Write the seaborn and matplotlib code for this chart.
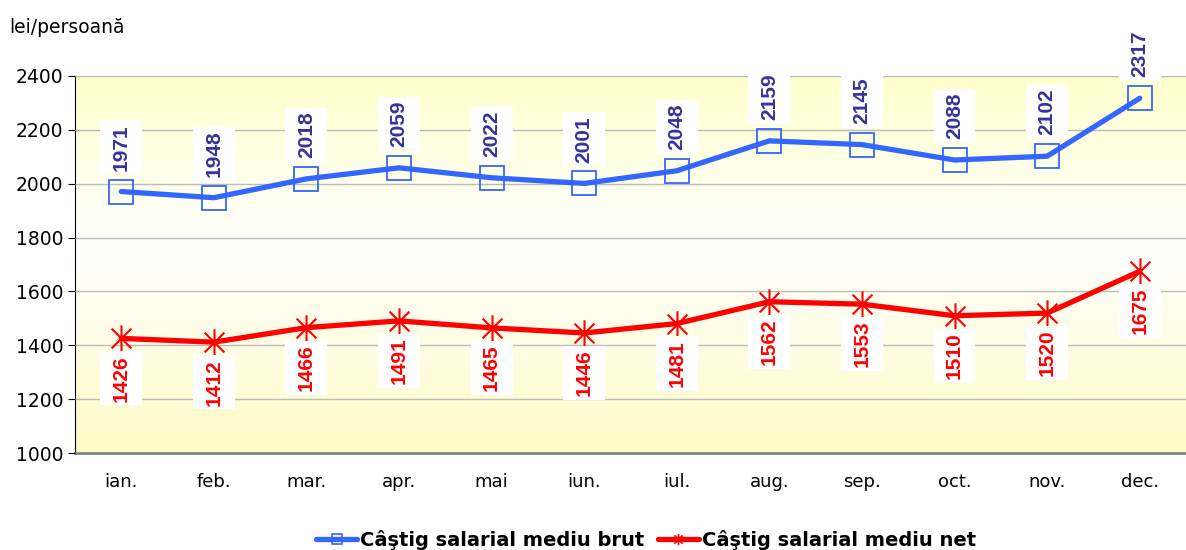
import numpy as np
import pandas as pd
import seaborn as sns
import matplotlib.pyplot as plt
from matplotlib.path import Path
from matplotlib.lines import Line2D
from matplotlib.colors import LinearSegmentedColormap

luni = ['ian.', 'feb.', 'mar.', 'apr.', 'mai', 'iun.', 'iul.', 'aug.', 'sep.', 'oct.', 'nov.', 'dec.']
brut = [1971, 1948, 2018, 2059, 2022, 2001, 2048, 2159, 2145, 2088, 2102, 2317]
net = [1426, 1412, 1466, 1491, 1465, 1446, 1481, 1562, 1553, 1510, 1520, 1675]
serii = ['Câştig salarial mediu brut', 'Câştig salarial mediu net']

df = pd.DataFrame({'luna': luni, serii[0]: brut, serii[1]: net})
df['x'] = np.arange(len(luni))
long_df = df.melt(id_vars=['luna', 'x'], var_name='serie', value_name='valoare')

sns.set_style('white')
plt.rcParams['font.family'] = ['DejaVu Sans']
plt.rcParams['text.color'] = 'black'
plt.rcParams['xtick.color'] = 'black'
plt.rcParams['ytick.color'] = 'black'

# excel-like star marker: X plus a vertical bar
star = Path([(0, -1), (0, 1), (-0.75, -0.75), (0.75, 0.75), (-0.75, 0.75), (0.75, -0.75)],
            [Path.MOVETO, Path.LINETO, Path.MOVETO, Path.LINETO, Path.MOVETO, Path.LINETO])

blue = '#3366FF'
red = '#FF0000'


# label box: small pad along the (rotated) text, wide pad across it
def label_box(x0, y0, width, height, mutation_size):
    px = 0.18 * mutation_size
    py = 0.55 * mutation_size
    x0, y0 = x0 - px, y0 - py
    x1, y1 = x0 + width + 2 * px, y0 + height + 2 * py
    return Path([(x0, y0), (x1, y0), (x1, y1), (x0, y1), (x0, y0)], closed=True)


fig = plt.figure(figsize=(11.86, 5.5), dpi=100)
ax = fig.add_axes([0.0632, 0.176, 0.9368, 0.686])

# background gradient (yellow - white - yellow)
cmap = LinearSegmentedColormap.from_list('bg', [(0, '#FFFBC6'), (0.55, '#FFFFFF'), (1, '#FFFFCC')])
grad = np.linspace(0, 1, 256).reshape(-1, 1)
ax.imshow(grad, cmap=cmap, aspect='auto', extent=[-0.5, 11.5, 1000, 2400], origin='lower', zorder=0)

sns.lineplot(data=long_df, x='x', y='valoare', hue='serie', style='serie',
             palette=[blue, red], markers=['s', star], dashes=False,
             linewidth=3.8, markersize=17, markerfacecolor='none',
             markeredgewidth=1.3, ax=ax, zorder=3, legend=False)
for ln, col in zip(ax.get_lines()[:2], [blue, red]):
    ln.set_markeredgecolor(col)
    ln.set_markerfacecolor('none')
ax.get_lines()[1].set_markersize(19)
ax.get_lines()[1].set_markeredgewidth(1.5)

for i, (b, n) in enumerate(zip(brut, net)):
    ax.annotate(str(b), (i, b), xytext=(0, 15), textcoords='offset points',
                rotation=90, ha='center', va='bottom', fontsize=15, fontweight='bold',
                family='Liberation Sans', color='#333399', zorder=5,
                bbox=dict(boxstyle=label_box, fc='white', ec='none'))
    ax.annotate(str(n), (i, n), xytext=(0, -12), textcoords='offset points',
                rotation=90, ha='center', va='top', fontsize=15, fontweight='bold',
                family='Liberation Sans', color=red, zorder=5,
                bbox=dict(boxstyle=label_box, fc='white', ec='none'))

ax.set_xlim(-0.5, 11.36)
ax.set_ylim(1000, 2400)
ax.set_yticks(np.arange(1000, 2401, 200))
ax.set_xticks(np.arange(len(luni)))
ax.set_xticklabels(luni, fontsize=13)
ax.set_xticks(np.arange(-0.5, 12, 1), minor=True)
ax.tick_params(axis='x', which='major', length=0, pad=14)
ax.tick_params(axis='x', which='minor', length=5, color='black', direction='out')
ax.tick_params(axis='y', labelsize=13.5, length=5, color='black', direction='out', left=True)
ax.yaxis.grid(True, color='#BBBBBB', linewidth=1)
ax.set_axisbelow(False)
for ln in ax.get_ygridlines():
    ln.set_zorder(1)
ax.set_xlabel('')
ax.set_ylabel('')
for s in ['top', 'right']:
    ax.spines[s].set_visible(False)
ax.spines['left'].set_color('black')
ax.spines['bottom'].set_color('#808080')
ax.spines['bottom'].set_linewidth(2)

fig.text(0.008, 0.95, 'lei/persoană', fontsize=13.5, ha='left', va='center')

handles = [Line2D([], [], color=blue, lw=3.8, marker='s', markersize=7, markerfacecolor='none',
                  markeredgecolor=blue, markeredgewidth=1.2),
           Line2D([], [], color=red, lw=3.8, marker=star, markersize=8, markeredgecolor=red,
                  markeredgewidth=1.2)]
ax.legend(handles, serii, loc='center', bbox_to_anchor=(0.514, -0.229), ncol=2, frameon=False,
          prop={'weight': 'bold', 'size': 14}, handlelength=2.1, handletextpad=0.15,
          columnspacing=0.7)

fig.savefig('out.png', dpi=100)
